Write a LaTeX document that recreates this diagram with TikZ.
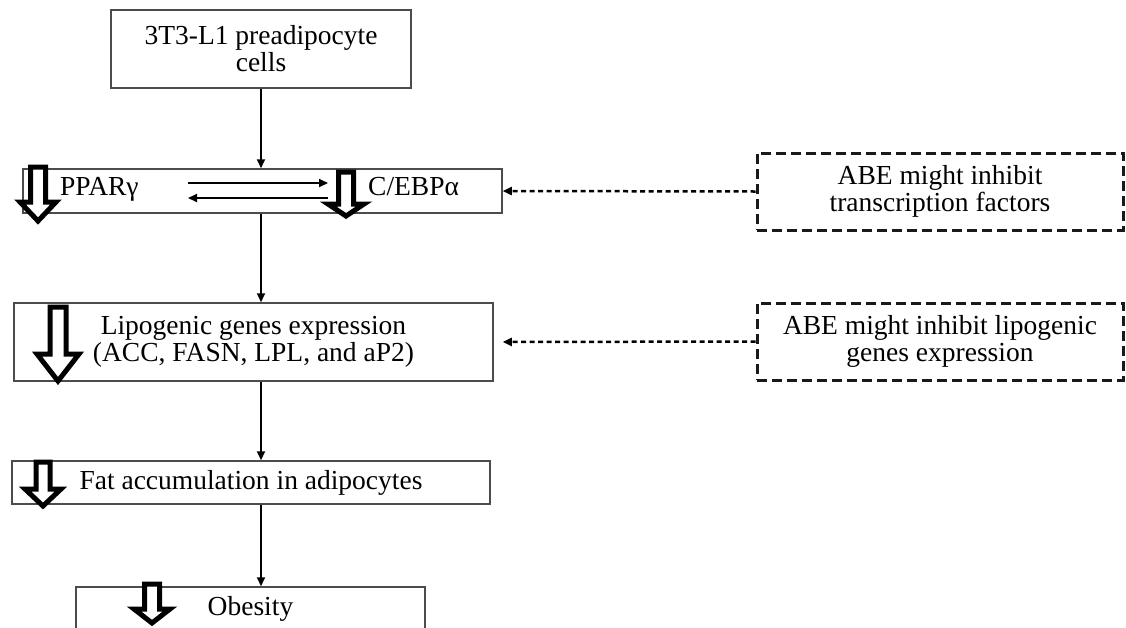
\documentclass[tikz,border=0pt]{standalone}
\usepackage{fontspec}
\setmainfont{Liberation Serif}
\usetikzlibrary{arrows.meta}
\newcommand{\diagfont}{\fontsize{27.5pt}{27pt}\selectfont}
% hollow "decrease" arrow: centre x, top y, shaft half-width, head half-width, head start y, tip y
\newcommand{\hollowdown}[6]{%
  \draw[hollow] (#1-#3,#2) -- (#1+#3,#2) -- (#1+#3,#5) -- (#1+#4,#5) -- (#1,#6)
    -- (#1-#4,#5) -- (#1-#3,#5) -- cycle;}
\begin{document}
\begin{tikzpicture}[x=1pt,y=-1pt,
  box/.style={draw=black!70, line width=1.5pt, fill=white, inner sep=0pt,
    align=center, font=\diagfont},
  dbox/.style={draw=black!90, line width=3pt, dash pattern=on 10pt off 5pt,
    fill=white, inner sep=0pt, align=center, font=\diagfont},
  lbl/.style={inner sep=0pt, font=\diagfont},
  conn/.style={draw=black, line width=2pt, -{Triangle[length=9pt,width=8pt]}},
  dconn/.style={draw=black, line width=2.5pt, dash pattern=on 5pt off 3.5pt,
    -{Triangle[length=9pt,width=8pt]}},
  hollow/.style={draw=black, line width=5pt, fill=white, line join=miter}]
\clip (0,0) rectangle (1126,627);
\fill[white] (0,0) rectangle (1126,627);

% spine of the main pathway
\coordinate (spine) at (261,0);

% boxes of the pathway
\node[box, minimum width=300pt, minimum height=78pt] (cells) at (261,49)
  {3T3-L1 preadipocyte\\cells};
\node[box, minimum width=479pt, minimum height=44pt] (ppar) at (262.5,191) {};
\node[box, minimum width=479pt, minimum height=78pt] (lipo) at (253.5,342)
  {Lipogenic genes expression\\(ACC, FASN, LPL, and aP2)};
\node[box, minimum width=478pt, minimum height=43pt] (fat) at (251,482.5)
  {Fat accumulation in adipocytes};
\node[box, minimum width=349pt, minimum height=44pt] (obes) at (250.5,609)
  {Obesity};

% transcription factors
\node[lbl, anchor=base west] (pparg) at (60,195) {PPARγ};
\node[lbl, anchor=base west] (cebpa) at (368,195) {C/EBPα};

% ABE boxes
\node[dbox, minimum width=366pt, minimum height=77pt] (abe1) at (940,191.5)
  {ABE might inhibit\\transcription factors};
\node[dbox, minimum width=366pt, minimum height=77pt] (abe2) at (940,341.5)
  {ABE might inhibit lipogenic\\genes expression};

% main downward connectors
\draw[conn] (cells.south -| spine) -- (ppar.north -| spine);
\draw[conn] (ppar.south -| spine) -- (lipo.north -| spine);
\draw[conn] (lipo.south -| spine) -- (fat.north -| spine);
\draw[conn] (fat.south -| spine) -- (obes.north -| spine);

% reversible interaction between the two factors
\coordinate (eqLa) at (188,183);
\coordinate (eqRa) at (328,183);
\coordinate (eqLb) at (188,198);
\coordinate (eqRb) at (328,198);
\draw[conn] (eqLa) -- (eqRa);
\draw[conn] (eqRb) -- (eqLb);

% inhibition by ABE
\draw[dconn] (abe1.west) -- (ppar.east);
\draw[dconn, shorten >=9pt] (abe2.west) -- (lipo.east);

% hollow arrows marking decrease
\hollowdown{38}{167}{7.5}{18}{202}{221}
\hollowdown{346}{172}{7.5}{18}{204}{216}
\hollowdown{58}{307}{8}{21}{354}{381}
\hollowdown{43}{462}{7}{18}{489}{506}
\hollowdown{152}{584}{7.5}{18}{609}{623}
\end{tikzpicture}
\end{document}
